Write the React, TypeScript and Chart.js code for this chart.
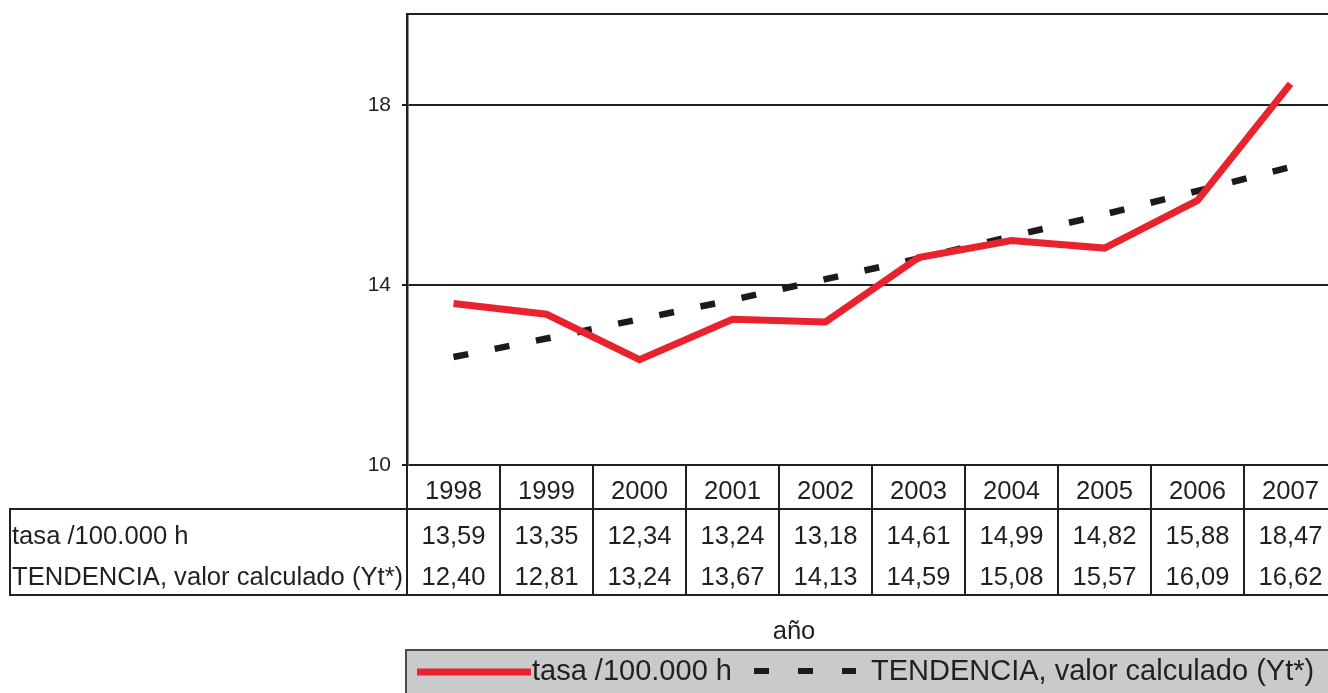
import React, { useEffect, useRef } from "react";
import { Chart, registerables } from "chart.js";

Chart.register(...registerables);

const years = ["1998", "1999", "2000", "2001", "2002", "2003", "2004", "2005", "2006", "2007"];
const tasa = [13.59, 13.35, 12.34, 13.24, 13.18, 14.61, 14.99, 14.82, 15.88, 18.47];
const tendencia = [12.4, 12.81, 13.24, 13.67, 14.13, 14.59, 15.08, 15.57, 16.09, 16.62];
const yTicks = [10, 14, 18];
const seriesLabels = ["tasa /100.000 h", "TENDENCIA, valor calculado (Yt*)"];
const xTitle = "año";

const INK = "#231f20";
const RED = "#e8232d";
const FONT = "'Liberation Sans', Arial, sans-serif";

const fmt = (v: number) => v.toFixed(2).replace(".", ",");

const tablePlugin = {
  id: "tablePlugin",
  afterDraw(chart: any) {
    const { ctx, chartArea, scales } = chart;
    const xs = scales.x;
    const top = chartArea.top;
    const axisY = chartArea.bottom;
    const headBottom = 509;
    const tableBottom = 595;
    const tableLeft = 10;
    const farRight = xs.getPixelForValue(years.length - 0.5);

    ctx.save();
    ctx.strokeStyle = INK;
    ctx.lineWidth = 2;
    ctx.lineCap = "butt";
    const seg = (x1: number, y1: number, x2: number, y2: number) => {
      ctx.beginPath();
      ctx.moveTo(x1, y1);
      ctx.lineTo(x2, y2);
      ctx.stroke();
    };
    // top border of plot
    seg(chartArea.left - 1, top - 1, chartArea.right + 2, top - 1);
    // table lines
    for (let k = 0; k <= years.length; k++) {
      const px = Math.round(xs.getPixelForValue(k - 0.5));
      seg(px, axisY, px, tableBottom);
    }
    seg(tableLeft, headBottom, farRight, headBottom);
    seg(tableLeft, tableBottom, farRight, tableBottom);
    seg(tableLeft, headBottom - 1, tableLeft, tableBottom + 1);

    // table text
    ctx.fillStyle = INK;
    ctx.font = `25.6px ${FONT}`;
    ctx.textBaseline = "middle";
    ctx.textAlign = "center";
    years.forEach((y, i) => {
      const cx = xs.getPixelForValue(i);
      ctx.fillText(y, cx, 492);
      ctx.fillText(fmt(tasa[i]), cx, 537);
      ctx.fillText(fmt(tendencia[i]), cx, 578);
    });
    ctx.textAlign = "left";
    ctx.fillText(seriesLabels[0], 12, 537);
    ctx.fillText(seriesLabels[1], 12, 578);

    // axis title
    ctx.textAlign = "center";
    ctx.fillText(xTitle, 794, 632);

    // legend
    const ds = chart.data.datasets;
    ctx.fillStyle = "#c9cacc";
    ctx.fillRect(406, 650, 1000, 60);
    ctx.strokeStyle = "#4a4a4c";
    ctx.lineWidth = 2;
    ctx.strokeRect(406, 650, 1000, 60);

    ctx.strokeStyle = ds[0].borderColor;
    ctx.lineWidth = 7;
    seg(417, 672, 531, 672);

    ctx.strokeStyle = ds[1].borderColor;
    ctx.lineWidth = 6;
    ctx.setLineDash([15, 29]);
    seg(754, 671, 856, 671);
    ctx.setLineDash([]);

    ctx.fillStyle = INK;
    ctx.font = `29px ${FONT}`;
    ctx.textAlign = "left";
    ctx.textBaseline = "middle";
    ctx.fillText(ds[0].label, 532, 672);
    ctx.fillText(ds[1].label, 871, 672);
    ctx.restore();
  },
};

export default function App() {
  const ref = useRef<HTMLCanvasElement>(null);

  useEffect(() => {
    const canvas = ref.current;
    if (!canvas) return;
    const chart = new Chart(canvas, {
      type: "line",
      data: {
        datasets: [
          {
            label: seriesLabels[0],
            data: tasa.map((v, i) => ({ x: i, y: v })),
            borderColor: RED,
            borderWidth: 7,
            pointRadius: 0,
            borderJoinStyle: "miter",
            tension: 0,
          },
          {
            label: seriesLabels[1],
            data: tendencia.map((v, i) => ({ x: i, y: v })),
            borderColor: "#1c1a1b",
            borderWidth: 6.5,
            borderDash: [15, 27],
            borderCapStyle: "butt",
            pointRadius: 0,
            tension: 0,
          },
        ],
      },
      options: {
        animation: false,
        responsive: false,
        devicePixelRatio: 1,
        layout: { padding: { left: 0, right: 0, top: 15, bottom: 228 } },
        plugins: {
          legend: { display: false },
          tooltip: { enabled: false },
        },
        scales: {
          x: {
            type: "linear",
            display: false,
            min: -0.5,
            max: -0.5 + 921 / 93,
          },
          y: {
            type: "linear",
            min: 10,
            max: 20,
            afterBuildTicks: (scale: any) => {
              scale.ticks = yTicks.map((v) => ({ value: v }));
            },
            afterFit: (scale: any) => {
              scale.width = 407;
              scale.paddingTop = 0;
              scale.paddingBottom = 0;
            },
            ticks: {
              color: INK,
              font: { family: FONT, size: 21 },
              padding: 11,
            },
            grid: {
              color: INK,
              lineWidth: 2,
              tickLength: 5,
              drawTicks: true,
            },
            border: { display: true, color: INK, width: 2.5 },
          },
        },
      },
      plugins: [tablePlugin],
    });
    return () => chart.destroy();
  }, []);

  return (
    <canvas
      ref={ref}
      width={1328}
      height={693}
      style={{ position: "fixed", left: 0, top: 0, width: 1328, height: 693, background: "#fff" }}
    />
  );
}
